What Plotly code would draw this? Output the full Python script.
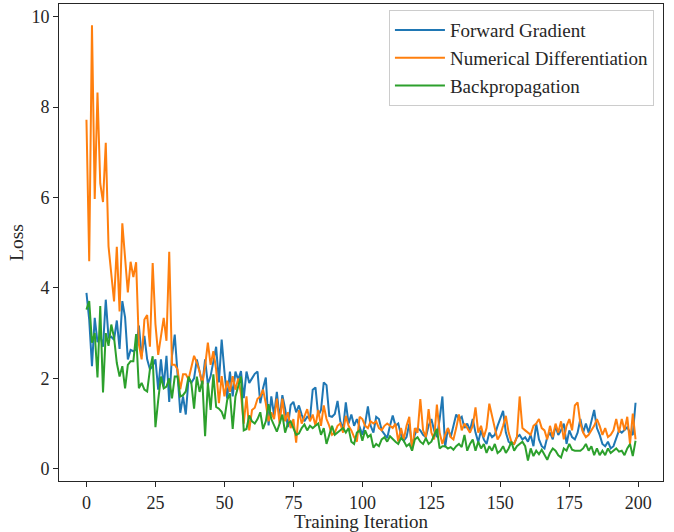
import plotly.graph_objects as go

iterations = list(range(200))

forward_gradient = [
    3.89, 3.30, 2.27, 3.34, 2.80, 2.95, 2.70, 3.74, 2.90, 2.92,
    2.85, 3.28, 2.65, 3.71, 3.35, 2.42, 2.63, 2.60, 2.64, 3.17,
    2.50, 2.94, 2.42, 2.20, 2.27, 2.42, 1.75, 2.42, 1.82, 2.50,
    1.48, 2.50, 2.97, 2.20, 1.24, 1.60, 1.20, 2.00, 1.90, 2.00,
    2.42, 2.15, 1.87, 2.42, 1.87, 2.05, 2.42, 2.70, 1.91, 2.86,
    2.15, 1.55, 2.15, 1.60, 2.15, 1.97, 2.16, 1.56, 2.15, 1.90,
    2.00, 2.10, 2.15, 1.45, 1.78, 2.02, 0.96, 1.60, 1.18, 1.70,
    1.11, 1.63, 1.33, 0.92, 1.41, 1.48, 1.25, 1.40, 1.20, 1.05,
    1.15, 1.10, 1.75, 1.80, 1.17, 1.30, 1.91, 1.85, 1.17, 1.15,
    1.21, 1.50, 1.05, 0.88, 1.47, 1.00, 1.20, 0.95, 1.10, 0.90,
    0.75, 1.00, 1.38, 0.95, 0.80, 1.15, 1.10, 0.85, 0.75, 0.68,
    0.95, 1.18, 0.95, 1.00, 0.75, 0.62, 0.70, 1.00, 0.48, 0.75,
    0.90, 0.85, 0.75, 0.70, 0.95, 1.10, 0.85, 0.70, 1.10, 1.60,
    0.48, 0.90, 0.70, 0.95, 1.20, 1.10, 1.15, 0.90, 1.00, 0.85,
    1.10, 0.80, 0.59, 0.85, 0.65, 0.55, 0.80, 0.70, 0.75, 0.95,
    1.10, 1.28, 0.80, 0.60, 0.55, 0.55, 0.70, 0.75, 0.65, 0.70,
    0.60, 0.75, 0.50, 1.00, 0.65, 0.50, 0.45, 0.70, 0.80, 0.65,
    0.95, 0.75, 0.85, 1.00, 0.55, 0.85, 0.70, 0.65, 0.80, 1.10,
    0.80, 1.00, 0.80, 1.05, 1.30, 0.90, 0.75, 0.55, 0.50, 0.60,
    0.45, 0.50, 0.70, 0.85, 0.80, 0.85, 0.92, 0.80, 0.75, 1.46,
]

numerical_differentiation = [
    7.72, 4.59, 9.81, 5.97, 8.32, 6.31, 5.90, 7.21, 4.92, 4.25,
    3.70, 4.91, 3.48, 5.43, 4.55, 3.90, 4.58, 4.24, 4.57, 2.75,
    2.42, 3.30, 3.40, 2.70, 4.55, 3.20, 2.52, 2.93, 3.34, 2.83,
    4.80, 2.30, 2.30, 2.20, 1.76, 2.09, 2.09, 1.98, 2.24, 2.50,
    2.35, 2.15, 1.87, 2.27, 2.79, 2.30, 2.60, 2.20, 1.45, 2.05,
    1.60, 1.95, 1.70, 2.05, 1.75, 2.00, 1.65, 1.00, 1.60, 0.85,
    1.30, 1.35, 1.55, 1.60, 1.75, 1.45, 1.05, 1.25, 1.10, 1.55,
    1.00, 1.55, 1.05, 1.25, 0.90, 1.10, 0.58, 1.30, 1.00, 1.15,
    1.32, 1.05, 1.20, 0.95, 1.30, 0.95, 1.40, 1.10, 0.95, 0.75,
    0.80, 0.95, 1.00, 0.80, 1.17, 0.95, 0.85, 0.70, 0.60, 1.15,
    1.10, 0.95, 0.90, 1.05, 1.00, 1.05, 0.90, 0.85, 0.95, 1.00,
    0.95, 0.90, 1.00, 0.60, 0.90, 0.65, 0.95, 1.15, 0.40, 0.90,
    0.80, 1.54, 0.85, 0.70, 1.32, 0.80, 0.65, 1.42, 0.80, 0.55,
    0.75, 0.90, 0.70, 0.65, 0.90, 1.20, 0.85, 1.00, 0.90, 0.80,
    0.95, 1.36, 0.80, 0.95, 0.70, 0.90, 1.44, 1.15, 0.90, 0.65,
    0.75, 0.95, 1.17, 0.80, 0.60, 0.55, 0.70, 1.60, 0.90, 0.85,
    0.80, 0.75, 0.95, 1.00, 1.10, 0.90, 0.85, 0.65, 0.95, 0.70,
    1.00, 0.80, 1.05, 0.65, 0.95, 1.10, 0.85, 1.40, 1.47, 1.00,
    0.80, 0.70, 0.75, 0.85, 0.95, 1.10, 0.95, 0.75, 0.90, 0.70,
    0.75, 0.85, 1.10, 0.80, 1.10, 0.85, 1.15, 0.55, 1.22, 0.65,
]

backpropagation = [
    3.52, 3.71, 2.79, 3.00, 2.02, 3.60, 1.69, 3.00, 2.72, 3.19,
    2.90, 2.34, 2.04, 2.27, 1.78, 2.30, 2.38, 2.38, 2.98, 1.78,
    1.90, 1.75, 1.71, 2.20, 2.49, 0.92, 1.52, 2.04, 1.78, 1.82,
    2.00, 1.56, 2.04, 2.04, 1.60, 1.63, 1.71, 2.04, 1.90, 1.33,
    2.04, 1.70, 1.95, 0.72, 1.90, 1.30, 2.09, 1.37, 1.33, 1.26,
    1.10, 1.52, 1.67, 0.88, 1.60, 1.82, 2.04, 0.85, 0.88, 1.18,
    1.05, 1.00, 1.10, 1.25, 0.88, 1.05, 1.43, 1.10, 0.95, 0.82,
    1.00, 1.20, 0.80, 1.00, 1.05, 0.90, 0.75, 0.78, 0.90, 0.98,
    0.85, 0.95, 0.90, 0.95, 1.00, 0.75, 0.90, 0.55, 0.78, 0.95,
    0.75, 0.80, 0.85, 0.90, 0.80, 0.90, 0.60, 0.55, 0.80, 0.85,
    0.62, 0.85, 0.70, 0.75, 0.47, 0.55, 0.50, 0.65, 0.70, 0.60,
    0.72, 0.65, 0.60, 0.55, 0.68, 0.62, 0.50, 0.55, 0.40, 0.65,
    0.70, 0.60, 0.55, 0.68, 0.55, 0.60, 0.75, 0.88, 0.45, 0.50,
    0.50, 0.45, 0.48, 0.42, 0.50, 0.55, 0.48, 0.75, 0.40, 0.55,
    0.65, 0.40, 0.60, 0.45, 0.55, 0.35, 0.50, 0.40, 0.55, 0.35,
    0.40, 0.50, 0.35, 0.45, 0.60, 0.40, 0.50, 0.55, 0.60, 0.50,
    0.18, 0.45, 0.28, 0.40, 0.32, 0.42, 0.30, 0.20, 0.35, 0.45,
    0.40, 0.30, 0.25, 0.45, 0.40, 0.55, 0.42, 0.40, 0.40, 0.40,
    0.45, 0.55, 0.40, 0.50, 0.30, 0.45, 0.30, 0.40, 0.30, 0.45,
    0.35, 0.40, 0.45, 0.38, 0.40, 0.30, 0.45, 0.55, 0.28, 0.62,
]

x_ticks = [0, 25, 50, 75, 100, 125, 150, 175, 200]
y_ticks = [0, 2, 4, 6, 8, 10]

series = [
    ("Forward Gradient", forward_gradient, "#1f77b4"),
    ("Numerical Differentiation", numerical_differentiation, "#ff7f0e"),
    ("Backpropagation", backpropagation, "#2ca02c"),
]

FONT = "Liberation Serif, DejaVu Serif, serif"

fig = go.Figure()
for name, vals, color in series:
    fig.add_trace(go.Scatter(
        x=iterations, y=vals, mode="lines", name=name,
        legendgroup=name,
        line=dict(color=color, width=2),
    ))

axis_common = dict(
    showline=True, linecolor="#262626", linewidth=1, mirror=True,
    ticks="outside", ticklen=5, tickwidth=1, tickcolor="#262626",
    showgrid=False, zeroline=False,
    tickfont=dict(family=FONT, size=18, color="#262626"),
)

fig.update_layout(
    width=674, height=532,
    margin=dict(l=59, r=11, t=3, b=50),
    paper_bgcolor="white", plot_bgcolor="white",
    font=dict(family=FONT, size=18, color="#262626"),
    xaxis=dict(
        range=[-9.95, 208.95], tickvals=x_ticks,
        title=dict(text="Training Iteration", font=dict(family=FONT, size=19), standoff=3),
        **axis_common,
    ),
    yaxis=dict(
        range=[-0.27, 10.28], tickvals=y_ticks,
        title=dict(text="Loss", font=dict(family=FONT, size=19.5), standoff=2),
        **axis_common,
    ),
    legend=dict(
        x=0.985, y=0.987, xanchor="right", yanchor="top",
        bgcolor="rgba(255,255,255,0.8)", bordercolor="#cccccc", borderwidth=1,
        font=dict(family=FONT, size=19, color="#262626"),
        traceorder="grouped", tracegroupgap=0, itemwidth=50,
    ),
    showlegend=True,
)

fig.write_html("out.html")
